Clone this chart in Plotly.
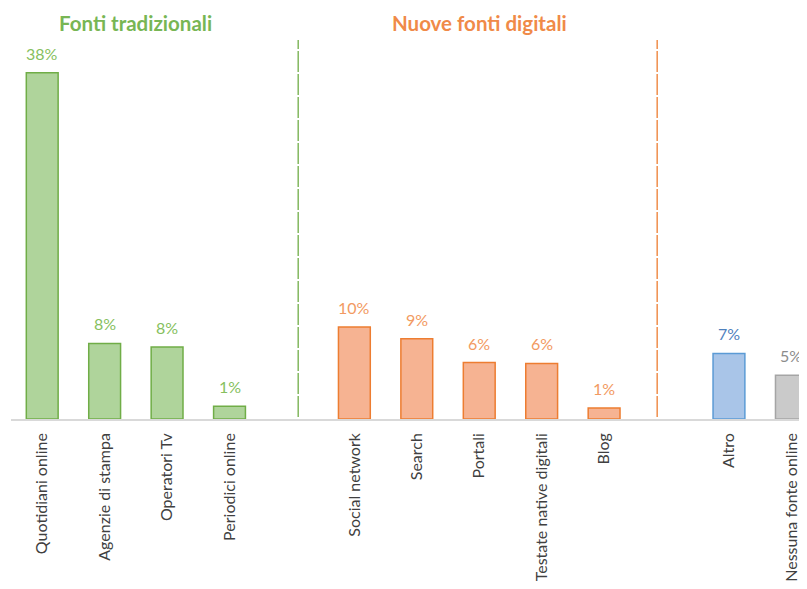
import plotly.graph_objects as go

# ---- data ----
trad_labels = ["Quotidiani online", "Agenzie di stampa", "Operatori Tv", "Periodici online"]
trad_values = [38.0, 8.3, 7.9, 1.4]
dig_labels = ["Social network", "Search", "Portali", "Testate native digitali", "Blog"]
dig_values = [10.1, 8.8, 6.2, 6.1, 1.2]
other_labels = ["Altro", "Nessuna fonte online"]
other_values = [7.2, 4.8]
group_titles = ["Fonti tradizionali", "Nuove fonti digitali"]

groups = [
    dict(labels=trad_labels, values=trad_values, fill="#afd49b", line="#70ad47", text="#86bf5e"),
    dict(labels=dig_labels, values=dig_values, fill="#f6b392", line="#ed7d31", text="#f29a62"),
    dict(labels=other_labels[:1], values=other_values[:1], fill="#a9c5e8", line="#5b9bd5", text="#4f81bd"),
    dict(labels=other_labels[1:], values=other_values[1:], fill="#cacaca", line="#a5a5a5", text="#8c8c8c"),
]

fig = go.Figure()
tickvals, ticktext = [], []
pos = 0
group_spans = []
for gi, g in enumerate(groups):
    xs = []
    for lab in g["labels"]:
        xs.append(pos)
        pos += 1
    group_spans.append((xs[0], xs[-1]))
    if gi in (0, 1):
        pos += 1  # gap between groups
    tickvals += xs
    ticktext += g["labels"]
    fig.add_trace(go.Bar(
        x=xs, y=g["values"], width=0.51,
        marker=dict(color=g["fill"], line=dict(color=g["line"], width=1.5)),
        showlegend=False, hoverinfo="skip",
    ))
    for x, v in zip(xs, g["values"]):
        fig.add_annotation(x=x, y=v, text=f"{round(v)}%", showarrow=False,
                           yanchor="bottom", yshift=8,
                           font=dict(family="Lato", size=16, color=g["text"]))

# dividers between groups
div_cols = ["#70ad47", "#ed7d31"]
div_x = [group_spans[0][1] + 1.1, group_spans[1][1] + 0.85]
for dx, c in zip(div_x, div_cols):
    fig.add_shape(type="line", xref="x", yref="paper", x0=dx, x1=dx, y0=0.005, y1=1,
                  line=dict(color=c, width=1.3, dash="21px,2px"))

title_cols = ["#78b654", "#f08a48"]
for (a, b), t, c in zip(group_spans[:2], group_titles, title_cols):
    fig.add_annotation(x=(a + b) / 2, xref="x", y=1.0, yref="paper", yshift=17,
                       text=f"<b>{t}</b>", showarrow=False, yanchor="middle",
                       font=dict(family="Lato", size=20.5, color=c))

fig.update_layout(
    width=807, height=589,
    margin=dict(l=3, r=8, t=32, b=178),
    plot_bgcolor="white", paper_bgcolor="white",
    bargap=0.5,
    xaxis=dict(range=[-0.5, 12.25], tickmode="array", tickvals=tickvals, ticktext=ticktext,
               tickangle=-90, showgrid=False, zeroline=False, automargin=False,
               showline=True, linecolor="#d9d9d9", linewidth=1.5,
               ticks="", ticklabelstandoff=6,
               tickfont=dict(family="Lato", size=16, color="#404040")),
    yaxis=dict(range=[0, 41.6], visible=False, showgrid=False, zeroline=False, automargin=False),
)

fig.write_html("out.html")
